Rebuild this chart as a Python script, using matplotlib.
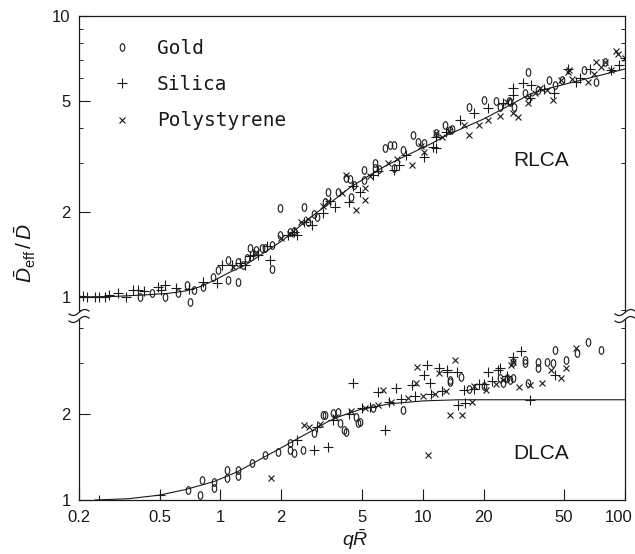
import numpy as np
import matplotlib.pyplot as plt
from matplotlib.path import Path
from matplotlib.lines import Line2D
from matplotlib.patches import Polygon
from matplotlib.ticker import NullFormatter, NullLocator
from matplotlib.transforms import ScaledTranslation

plt.rcParams['font.family'] = ['Liberation Sans', 'DejaVu Sans']
plt.rcParams['mathtext.fontset'] = 'custom'
plt.rcParams['mathtext.rm'] = 'Liberation Sans'
plt.rcParams['mathtext.it'] = 'Liberation Sans:italic'

# ---- RLCA (upper panel) ----
rl_gold_q = [0.4, 0.46, 0.53, 0.62, 0.71, 0.68, 0.74, 0.82, 0.92, 0.97, 1.09, 1.09, 1.22, 1.22,
             1.3, 1.4, 1.5, 1.66, 1.8, 1.8, 1.97, 1.97, 2.2, 2.6, 2.7, 3.0, 3.4, 3.8, 3.3, 4.4,
             4.2, 4.35, 5.1, 5.1, 5.8, 5.8, 6.5, 6.9, 7.2, 8.0, 7.2, 9.0, 10.1, 11.7, 12.9, 13.7,
             17.0, 20.2, 23, 24, 26.6, 28.3, 33, 32, 37, 42, 49, 63, 72, 80,
             1.35, 1.6, 2.3, 2.9, 4.6, 6.1, 9.5, 14, 27, 45]
rl_gold_v = [1.0, 1.03, 1.0, 1.03, 0.96, 1.1, 1.06, 1.09, 1.18, 1.25, 1.35, 1.15, 1.13, 1.33,
             1.3, 1.49, 1.47, 1.5, 1.53, 1.26, 2.07, 1.66, 1.7, 2.09, 1.85, 1.93, 2.36, 2.36, 2.18, 2.27,
             2.66, 2.64, 2.83, 2.61, 3.0, 2.88, 3.4, 3.47, 3.47, 3.33, 2.88, 3.77, 3.53, 3.83, 4.09, 3.93,
             4.74, 5.03, 5.0, 4.74, 5.0, 4.74, 6.3, 5.3, 5.45, 5.9, 5.9, 6.4, 5.8, 6.85,
             1.38, 1.5, 1.72, 1.98, 2.5, 2.85, 3.55, 3.95, 4.95, 5.7]

rl_silica_q = [0.2, 0.21, 0.22, 0.24, 0.25, 0.27, 0.28, 0.31, 0.34, 0.37, 0.39, 0.42, 0.49, 0.53,
               0.51, 0.6, 0.7, 0.82, 0.96, 1.02, 1.14, 1.33, 1.45, 1.54, 1.76, 2.3, 2.4, 2.85,
               3.2, 3.7, 4.3, 4.9, 5.7, 7.2, 7.6, 10.1, 11.2, 11.7, 11.6, 15.3, 18, 21, 27.8,
               31.2, 34.3, 27.8, 34, 44.5, 52, 57, 67, 93, 100,
               1.25, 1.4, 1.7, 2.15, 2.6, 3.5, 4.5, 6.0, 8.3, 13, 25, 40, 60, 85]
rl_silica_v = [1.0, 1.01, 1.0, 1.0, 1.0, 1.0, 1.02, 1.03, 1.0, 1.06, 1.06, 1.05, 1.09, 1.1,
               1.06, 1.08, 1.07, 1.13, 1.12, 1.3, 1.3, 1.3, 1.41, 1.41, 1.35, 1.7, 1.66, 1.8,
               1.99, 2.09, 2.18, 2.36, 2.72, 2.83, 2.95, 3.15, 3.42, 3.71, 3.39, 4.27, 4.52, 4.7, 5.55,
               5.77, 5.68, 5.24, 5.1, 5.32, 6.5, 5.8, 6.5, 6.7, 7.1,
               1.32, 1.4, 1.52, 1.66, 1.85, 2.2, 2.48, 2.8, 3.2, 3.85, 4.9, 5.5, 6.0, 6.4]

rl_poly_q = [1.16, 1.5, 2.0, 2.5, 3.4, 4.2, 4.7, 5.2, 5.2, 6.7, 8.9, 10.1, 11.6, 12.4, 17, 19,
             21, 24, 28, 29.5, 33, 33.5, 38, 41, 44, 48, 52, 53, 66, 72, 76, 80, 90, 92, 100,
             2.2, 2.7, 3.2, 4.0, 5.5, 7.5, 9.8, 13.5, 16, 26, 36, 55, 70, 85]
rl_poly_v = [1.28, 1.45, 1.62, 1.85, 2.2, 2.72, 2.04, 2.21, 2.44, 3.0, 2.95, 3.28, 3.83, 3.71, 3.77, 4.09,
             4.27, 4.4, 4.52, 4.37, 4.9, 5.15, 5.55, 5.45, 5.03, 5.9, 6.3, 6.4, 5.8, 6.85, 6.6, 6.85, 7.5, 7.3, 7.1,
             1.68, 1.9, 2.1, 2.35, 2.7, 3.1, 3.45, 3.9, 4.1, 4.95, 5.3, 5.95, 6.2, 6.4]

rl_fit_q = [0.2, 0.3, 0.41, 0.55, 0.67, 0.8, 0.94, 1.1, 1.33, 1.6, 1.8, 2.05, 2.5, 3.0, 3.6,
            4.4, 5.5, 6.5, 7.8, 10.9, 13.2, 20, 26, 34.4, 45, 60, 80, 100]
rl_fit_v = [1.0, 1.005, 1.016, 1.03, 1.05, 1.09, 1.15, 1.22, 1.30, 1.42, 1.5, 1.6, 1.8, 2.0, 2.2,
            2.46, 2.72, 2.92, 3.12, 3.5, 3.77, 4.3, 4.75, 5.3, 5.6, 5.9, 6.22, 6.48]

# ---- DLCA (lower panel) ----
dl_gold_q = [0.69, 0.79, 0.81, 0.93, 0.93, 1.08, 1.08, 1.22, 1.22, 1.44, 1.66, 1.93, 2.2, 2.2,
             2.3, 2.55, 2.9, 3.2, 3.3, 3.6, 3.8, 3.9, 4.1, 4.2, 4.7, 4.8, 4.9, 5.7, 8.0, 13.7,
             13.7, 15.5, 17, 20, 24, 25, 26, 27, 27.8, 28, 32, 32, 33, 37, 37, 41, 44, 45, 51, 58,
             66, 76]
dl_gold_v = [1.08, 1.04, 1.17, 1.16, 1.1, 1.27, 1.19, 1.27, 1.21, 1.35, 1.44, 1.47, 1.58, 1.5,
             1.46, 1.5, 1.71, 1.98, 1.98, 2.01, 2.03, 1.86, 1.76, 1.73, 1.95, 1.86, 1.87, 2.1, 2.06, 2.63,
             2.58, 2.7, 2.45, 2.5, 2.67, 2.56, 2.67, 2.62, 2.67, 3.04, 3.08, 3.0, 2.56, 3.04, 2.9, 3.04, 3.02, 3.34, 3.08, 3.26,
             3.57, 3.34]

dl_silica_q = [0.25, 0.5, 2.9, 3.4, 4.5, 6.0, 6.5, 7.4, 8.9, 10.1, 10.5, 10.9, 12, 13.2, 13.2,
               14.8, 15, 16.2, 21, 23.5, 24, 27.8, 30.5, 34, 45, 20, 18,
               2.4, 3.0, 3.6, 4.3, 5.0, 5.5, 6.8, 7.8, 9.2, 11, 12.5, 16, 19, 22, 26]
dl_silica_v = [1.0, 1.04, 1.5, 1.53, 2.56, 2.39, 1.76, 2.46, 2.52, 2.73, 2.97, 2.56, 2.9, 2.85, 2.8,
               2.8, 2.15, 2.18, 2.8, 2.84, 2.9, 3.16, 3.32, 2.24, 2.73, 2.55, 2.45,
               1.62, 1.8, 1.9, 2.0, 2.1, 2.12, 2.2, 2.25, 2.3, 2.35, 2.4, 2.42, 2.55, 2.6, 2.72]

dl_poly_q = [1.77, 2.6, 2.75, 6.4, 9.4, 9.3, 10.6, 12, 13.7, 14.5, 15.7, 17.5, 20.6, 27.2, 28,
             30, 34, 39, 43, 48, 51, 57,
             3.1, 3.7, 4.4, 5.2, 6.0, 7.0, 8.5, 10, 11.5, 13, 18, 23, 25]
dl_poly_v = [1.19, 1.83, 1.8, 2.43, 2.92, 2.56, 1.44, 2.78, 1.98, 3.08, 1.98, 2.2, 2.43, 2.97, 3.04,
             2.48, 2.52, 2.56, 2.85, 2.67, 2.9, 3.4,
             1.85, 1.95, 2.05, 2.1, 2.15, 2.2, 2.28, 2.3, 2.35, 2.4, 2.5, 2.55, 2.62]

dl_fit_q = [0.24, 0.35, 0.5, 0.68, 0.93, 1.2, 1.41, 1.7, 2.13, 2.45, 2.9, 3.4, 3.9, 4.9, 6.9,
            10.1, 15, 30, 100]
dl_fit_v = [1.0, 1.01, 1.04, 1.09, 1.16, 1.25, 1.33, 1.43, 1.56, 1.65, 1.76, 1.88, 1.96, 2.07, 2.17,
            2.22, 2.24, 2.24, 2.24]

xticks = [0.2, 0.5, 1, 2, 5, 10, 20, 50, 100]
xticklabels = ['0.2', '0.5', '1', '2', '5', '10', '20', '50', '100']

# narrow "0"-like marker for gold
circ = Path.unit_circle()
gold_marker = Path(circ.vertices * [0.6, 1.0], circ.codes)
ink = '#1a1a1a'
sty = {
    'Gold': dict(marker=gold_marker, ms=5.5, mfc='none', mec=ink, mew=0.8, ls='none'),
    'Silica': dict(marker='+', ms=6.5, mec=ink, mew=0.8, ls='none'),
    'Polystyrene': dict(marker='x', ms=4.5, mec=ink, mew=0.8, ls='none'),
}

W, H = 635, 554
fig = plt.figure(figsize=(W / 100, H / 100), dpi=100)
ax1 = fig.add_axes([79 / W, 1 - 315 / H, 546 / W, 299 / H])
ax2 = fig.add_axes([79 / W, 1 - 500 / H, 546 / W, 185 / H])

ax1.plot(rl_fit_q, rl_fit_v, color=ink, lw=0.8)
ax1.plot(rl_gold_q, rl_gold_v, label='Gold', **sty['Gold'])
ax1.plot(rl_silica_q, rl_silica_v, label='Silica', **sty['Silica'])
ax1.plot(rl_poly_q, rl_poly_v, label='Polystyrene', **sty['Polystyrene'])

ax2.plot(dl_fit_q, dl_fit_v, color=ink, lw=0.8)
ax2.plot(dl_gold_q, dl_gold_v, **sty['Gold'])
ax2.plot(dl_silica_q, dl_silica_v, **sty['Silica'])
ax2.plot(dl_poly_q, dl_poly_v, **sty['Polystyrene'])

for ax in (ax1, ax2):
    ax.set_xscale('log')
    ax.set_yscale('log')
    ax.set_xlim(0.2, 100)
    for s in ax.spines.values():
        s.set_linewidth(0.9)
        s.set_color(ink)
    ax.yaxis.set_minor_formatter(NullFormatter())
    ax.tick_params(axis='y', which='major', direction='in', length=8, width=0.8,
                   left=True, right=False, labelsize=12, pad=6, colors=ink)
    ax.tick_params(axis='y', which='minor', direction='in', length=3, width=0.6,
                   left=True, right=True)

ax1.spines['bottom'].set_visible(False)
ax2.spines['top'].set_visible(False)

ax1.set_ylim(0.863, 10)
ax1.set_yticks([1, 2, 5, 10], ['1', '2', '5', '10'])
ax1.tick_params(axis='x', which='both', bottom=False, top=False, labelbottom=False)

ax2.set_ylim(1, 4.43)
ax2.set_yticks([1, 2], ['1', '2'])
ax2.set_xticks(xticks, xticklabels)
ax2.xaxis.set_minor_locator(NullLocator())
ax2.tick_params(axis='x', which='major', direction='in', length=8, width=0.8,
                labelsize=12, pad=7, colors=ink)
# pull the last label ("100") in a little so it stays inside the figure
last = ax2.get_xticklabels()[-1]
last.set_transform(last.get_transform() + ScaledTranslation(-6 / 100, 0, fig.dpi_scale_trans))

ax1.text(0.846, 0.518, 'RLCA', transform=ax1.transAxes, fontsize=15,
         ha='center', va='center', color=ink)
ax2.text(0.846, 0.254, 'DLCA', transform=ax2.transAxes, fontsize=15,
         ha='center', va='center', color=ink)

ax1.legend(loc='upper left', bbox_to_anchor=(0.061, 0.924), frameon=False,
           prop={'family': 'DejaVu Sans Mono', 'size': 14}, borderpad=0,
           borderaxespad=0, handlelength=1.0, handletextpad=1.3, labelspacing=0.89,
           numpoints=1, labelcolor=ink)

fig.text(25 / W, 1 - 253 / H, r'$\bar{D}_{\mathrm{eff}}\,/\,\bar{D}$', rotation=90,
         fontsize=15, ha='center', va='center', color=ink)
fig.text(355 / W, 1 - 540 / H, r'$q\bar{R}$', fontsize=14, ha='center', va='center',
         color=ink)

# axis break marks on both spines
t = np.linspace(-1, 1, 40)
for xc in (79, 625):
    yc = 316
    xs = xc + 10 * t
    lo = yc + 3.5 - 2.2 * np.sin(np.pi * t) - 1.5 * t
    hi = yc - 3.5 - 2.2 * np.sin(np.pi * t) - 1.5 * t
    poly = np.column_stack([np.r_[xs, xs[::-1]], np.r_[lo, hi[::-1]]])
    poly = np.column_stack([poly[:, 0] / W, 1 - poly[:, 1] / H])
    fig.add_artist(Polygon(poly, closed=True, fc='white', ec='none', zorder=10,
                           transform=fig.transFigure))
    for ys in (lo, hi):
        fig.add_artist(Line2D(xs / W, 1 - ys / H, color=ink, lw=0.9, zorder=11,
                              transform=fig.transFigure))

fig.savefig('out.png', dpi=100)
